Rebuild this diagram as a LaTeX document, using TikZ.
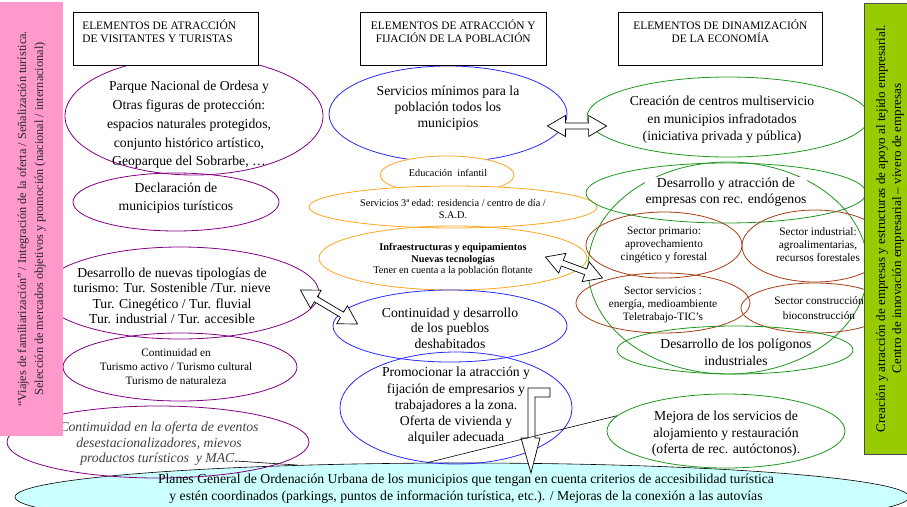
\documentclass[tikz,border=0pt]{standalone}
\usepackage{fontspec}
\setmainfont{Liberation Serif}
\usetikzlibrary{shapes.geometric,calc}

\definecolor{lila}{RGB}{128,0,128}
\definecolor{azul}{RGB}{40,40,255}
\definecolor{naranja}{RGB}{255,165,30}
\definecolor{verde}{RGB}{30,150,30}
\definecolor{marron}{RGB}{165,60,20}
\definecolor{celeste}{RGB}{204,255,255}
\definecolor{rosa}{RGB}{255,153,204}
\definecolor{lima}{RGB}{153,204,0}

\newcommand\tam[2]{\fontsize{#1}{#2}\selectfont}
% hollow double block arrow between two points
\newcommand\flecha[2]{%
  \draw[bloque] let \p1=#1, \p2=#2,
    \n1={atan2(\y2-\y1,\x2-\x1)}, \n2={veclen(\x2-\x1,\y2-\y1)} in
    [shift={(\p1)},rotate=\n1]
    (0pt,0pt) -- (18pt,10.5pt) -- (18pt,3pt) -- ({\n2-18pt},3pt) -- ({\n2-18pt},10.5pt)
    -- (\n2,0pt) -- ({\n2-18pt},-10.5pt) -- ({\n2-18pt},-3pt) -- (18pt,-3pt) -- (18pt,-10.5pt) -- cycle;}

\begin{document}
\begin{tikzpicture}[x=1pt,y=-1pt,
   ell/.style={ellipse,draw,line width=0.8pt,inner sep=0pt},
   txt/.style={align=center,inner sep=0pt,font=\tam{13.7}{16.5}},
   chico/.style={align=center,inner sep=0pt,font=\tam{10.3}{12}},
   sector/.style={align=center,inner sep=0pt,font=\tam{11.3}{13}},
   cab/.style={draw,fill=white,line width=0.6pt,inner sep=0pt,minimum height=53pt,font=\tam{11.4}{13}},
   bloque/.style={draw,fill=white,line width=0.7pt},
   linea/.style={line width=0.6pt},
   banda/.style={rotate=90,align=center,inner sep=0pt}]
\useasboundingbox (0,0) rectangle (907,506);
\clip (0,0) rectangle (907,506);

% franja inferior
\node[ell,fill=celeste,draw=black,line width=0.6pt,minimum width=894pt,minimum height=68pt] (planes) at (462,497) {};

% columna de visitantes y turistas
\node[ell,draw=lila,minimum width=258pt,minimum height=118pt] (parque) at (194,116) {};
\node[ell,draw=lila,minimum width=206pt,minimum height=58pt] (declar) at (176,202) {};
\node[ell,draw=lila,minimum width=278pt,minimum height=92pt] (tipol) at (180,293) {};
\node[ell,draw=lila,minimum width=234pt,minimum height=68pt] (activo) at (180,367) {};
\node[ell,draw=lila,minimum width=302pt,minimum height=72pt] (eventos) at (158,442) {};

% columna de la poblacion
\node[ell,draw=azul,minimum width=238pt,minimum height=96pt] (servmin) at (448,114) {};
\node[ell,draw=naranja,fill=white,minimum width=134pt,minimum height=38pt] (educ) at (447,175) {};
\node[ell,draw=naranja,fill=white,minimum width=288pt,minimum height=42pt] (tercera) at (453,207) {};
\node[ell,draw=naranja,minimum width=268pt,minimum height=64pt] (infra) at (453,258) {};
\node[ell,draw=azul,minimum width=234pt,minimum height=72pt] (pueblos) at (450,326) {};
\node[ell,draw=azul,minimum width=232pt,minimum height=112pt] (promo) at (456,408) {};

% columna de la economia
\node[ell,draw=verde,minimum width=282pt,minimum height=80pt] (multi) at (728,117) {};
\node[ell,draw=verde,minimum width=280pt,minimum height=212pt] (grande) at (728,268) {};
\node[ell,draw=verde,minimum width=280pt,minimum height=60pt] (endog) at (726,193) {};
\node[ell,draw=marron,minimum width=156pt,minimum height=66pt] (primario) at (664,245) {};
\node[ell,draw=marron,minimum width=146pt,minimum height=72pt] (industrial) at (815,246) {};
\node[ell,draw=marron,minimum width=174pt,minimum height=60pt] (servicios) at (663,303) {};
\node[ell,draw=marron,minimum width=148pt,minimum height=50pt] (construc) at (815,308) {};
\node[ell,draw=verde,minimum width=236pt,minimum height=48pt] (poligonos) at (735,350) {};
\node[ell,draw=verde,minimum width=238pt,minimum height=74pt] (mejora) at (726,431) {};

% textos
\node[txt,font=\tam{13.7}{18.8}] (parque-t) at (189,125) {Parque Nacional de Ordesa y\\Otras figuras de protección:\\espacios naturales protegidos,\\conjunto histórico artístico,\\Geoparque del Sobrarbe, …};
\node[txt,font=\tam{13.7}{18}] (declar-t) at (176,198) {Declaración de\\municipios turísticos};
\node[txt,font=\tam{13.7}{15.5}] (tipol-t) at (172,296) {Desarrollo de nuevas tipologías de\\turismo: Tur. Sostenible /Tur. nieve\\Tur. Cinegético / Tur. fluvial\\Tur. industrial / Tur. accesible};
\node[sector,font=\tam{11.3}{14}] (activo-t) at (176,367) {Continuidad en\\Turismo activo / Turismo cultural\\Turismo de naturaleza};
\node[txt,font=\itshape\tam{13.7}{15.5},text=black!75] (eventos-t) at (159,444) {Contimuidad en la oferta de eventos\\desestacionalizadores, mievos\\productos turísticos\ \ y MAC.};
\node[txt,font=\tam{13.7}{16}] (servmin-t) at (448,108) {Servicios mínimos para la\\población todos los\\municipios};
\node[chico] (educ-t) at (448,173) {Educación\ \ infantil};
\node[chico] (tercera-t) at (453,209) {Servicios 3ª edad: residencia / centro de día /\\S.A.D.};
\node[chico,font=\tam{10.3}{11.5}] (infra-t) at (453,259.5) {\textbf{Infraestructuras y equipamientos}\\\textbf{Nuevas tecnologías}\\Tener en cuenta a la población flotante};
\node[txt,font=\tam{13.7}{15.5}] (pueblos-t) at (450,328) {Continuidad y desarrollo\\de los pueblos\\deshabitados};
\node[txt,font=\tam{13.7}{16.3}] (promo-t) at (456,406) {Promocionar la atracción y\\fijación de empresarios y\\trabajadores a la zona.\\Oferta de vivienda y\\alquiler adecuada};
\node[txt,font=\tam{13.7}{17.5}] (multi-t) at (722,120) {Creación de centros multiservicio\\en municipios infradotados\\(iniciativa privada y pública)};
\node[txt,fill=white,inner sep=1pt] (endog-t) at (726,192) {Desarrollo y atracción de\\empresas con rec. endógenos};
\node[sector] (primario-t) at (664,245) {Sector primario:\\aprovechamiento\\cingético y forestal};
\node[sector] (industrial-t) at (818,245) {Sector industrial:\\agroalimentarias,\\recursos forestales};
\node[sector] (servicios-t) at (663,305) {Sector servicios :\\energía, medioambiente\\Teletrabajo-TIC’s};
\node[sector,font=\tam{11.3}{15}] (construc-t) at (819,308) {Sector construcción\\bioconstrucción};
\node[txt,font=\tam{13.7}{17}] (poligonos-t) at (736,352) {Desarrollo de los polígonos\\industriales};
\node[txt] (mejora-t) at (726,434) {Mejora de los servicios de\\alojamiento y restauración\\(oferta de rec. autóctonos).};
\node[txt,font=\tam{13.7}{17}] (planes-t) at (466,489) {Planes General de Ordenación Urbana de los municipios que tengan en cuenta criterios de accesibilidad turística\\y estén coordinados (parkings, puntos de información turística, etc.). / Mejoras de la conexión a las autovías};

% flechas
\flecha{($(servmin.east)+(-20,12)$)}{($(multi.west)+(20,9)$)}
\flecha{($(tipol.east)+(-19,-3)$)}{($(pueblos.west)+(25,-2)$)}
\flecha{($(infra.east)+(-42,-1)$)}{($(servicios.west)+(27,-25)$)}
\draw[bloque] (550,388) -- (528,388) -- (528,438) -- (521,438) -- (531,473) -- (540,438)
   -- (535,438) -- (535,397) -- (550,397) -- cycle;
\coordinate (mac) at (236,461);
\draw[linea] (mac) -- (planes.169);
\draw[linea] (mejora.172) -- (planes.136);

% cabeceras
\node[cab,minimum width=185pt,anchor=north west] (cabvis) at (73,12) {\parbox[c][39pt][t]{167pt}{\raggedright ELEMENTOS DE ATRACCIÓN\\DE VISITANTES Y TURISTAS}};
\node[cab,minimum width=186pt,anchor=north west] (cabpob) at (360,12) {\parbox[c][39pt][t]{180pt}{\centering ELEMENTOS DE ATRACCIÓN Y\\FIJACIÓN DE LA POBLACIÓN}};
\node[cab,minimum width=204pt,anchor=north west] (cabeco) at (618,12) {\parbox[c][39pt][t]{200pt}{\centering ELEMENTOS DE DINAMIZACIÓN\\DE LA ECONOMÍA}};

% franjas laterales
\node[banda,fill=rosa,minimum width=434pt,minimum height=63pt,font=\tam{12.3}{17},text=black!85] (franjarosa) at (31.5,219) {“Viajes de familiarización” / Integración de la oferta / Señalización turística.\\Selección de mercados objetivos y promoción (nacional / internacional)};
\node[banda,fill=lima,draw=black!70,line width=0.8pt,minimum width=451pt,minimum height=52pt,font=\tam{13}{16}] (franjalima) at (890,228.5) {Creación y atracción de empresas y estructuras de apoyo al tejido empresarial.\\Centro de innovación empresarial – vivero de empresas};
\end{tikzpicture}
\end{document}
